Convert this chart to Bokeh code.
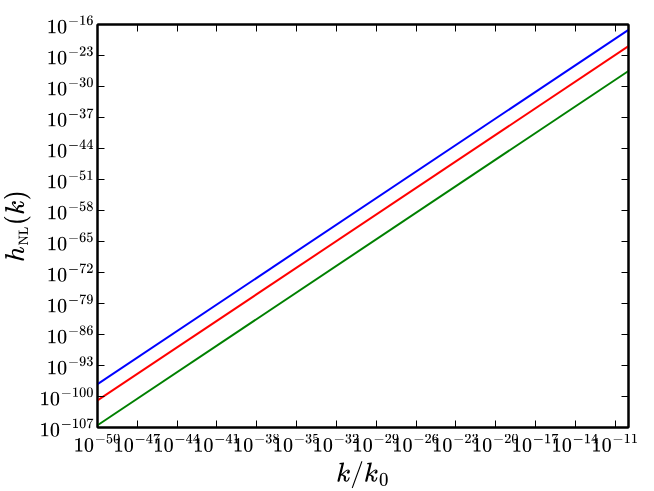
from bokeh.plotting import figure
from bokeh.models import LogAxis, FixedTicker, Range1d, CustomJSTickFormatter
from bokeh.embed import file_html
from bokeh.resources import INLINE

# data (log-log straight lines)
k = [1e-50, 1e-10]
h_blue = [10**-97.2, 10**-17.2]
h_red = [10**-100.9, 10**-20.9]
h_green = [10**-106.5, 10**-26.5]

x_exps = list(range(-50, -10, 3))
y_exps = list(range(-107, -15, 7))
x_ticks = [10.0**e for e in x_exps]
y_ticks = [10.0**e for e in y_exps]
x_labels = {10.0**e: "$$10^{%d}$$" % e for e in x_exps}
y_labels = {10.0**e: "$$10^{%d}$$" % e for e in y_exps}

p = figure(width=654, height=491, x_axis_type="log", y_axis_type="log",
           x_range=Range1d(1e-50, 1e-10), y_range=Range1d(1e-107, 1e-16),
           output_backend="svg", toolbar_location=None,
           min_border_left=88, min_border_right=26, min_border_top=24, min_border_bottom=62)

p.line(k, h_blue, line_color="#0000ff", line_width=2)
p.line(k, h_red, line_color="#ff0000", line_width=2)
p.line(k, h_green, line_color="#008000", line_width=2)

p.grid.visible = False
p.outline_line_color = "black"
p.outline_line_width = 2
p.background_fill_color = "white"
p.border_fill_color = "white"

def style(ax, ticks, labels, show):
    ax.ticker = FixedTicker(ticks=ticks, minor_ticks=[])
    ax.major_tick_in = 7
    ax.major_tick_out = 0
    ax.minor_tick_in = 0
    ax.minor_tick_out = 0
    ax.major_tick_line_color = "black"
    ax.major_tick_line_width = 1
    ax.axis_line_color = "black"
    ax.axis_line_width = 2
    if show:
        ax.major_label_overrides = labels
        ax.major_label_text_font_size = "16px"
        ax.major_label_text_color = "black"
        ax.major_label_standoff = 6
    else:
        ax.formatter = CustomJSTickFormatter(code="return ''")
        ax.major_label_standoff = 0

style(p.xaxis[0], x_ticks, x_labels, True)
style(p.yaxis[0], y_ticks, y_labels, True)
p.yaxis[0].major_label_standoff = 3
p.xaxis[0].axis_label = r"$$k/k_0$$"
p.yaxis[0].axis_label = r"$$h_{\scriptscriptstyle\rm NL}(k)$$"
for ax in (p.xaxis[0], p.yaxis[0]):
    ax.axis_label_text_font_size = "22px"
    ax.axis_label_text_color = "black"
    ax.axis_label_standoff = 6

top = LogAxis()
right = LogAxis()
style(top, x_ticks, None, False)
style(right, y_ticks, None, False)
p.add_layout(top, "above")
p.add_layout(right, "right")

open("out.html", "w").write(file_html(p, INLINE))
